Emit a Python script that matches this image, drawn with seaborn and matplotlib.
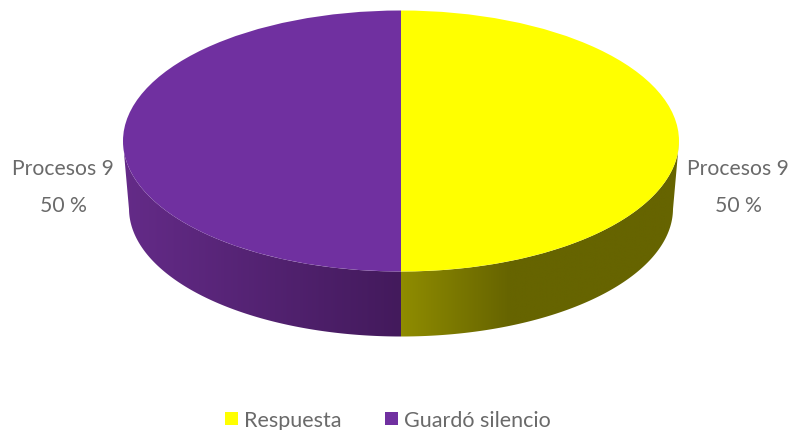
import numpy as np
import matplotlib
matplotlib.use("Agg")
import matplotlib.pyplot as plt
from matplotlib.colors import LinearSegmentedColormap
from matplotlib.patches import Polygon
import seaborn as sns

categories = ["Respuesta", "Guardó silencio"]
values = [9, 9]
slice_labels = ["Procesos 9\n50 %", "Procesos 9\n50 %"]
top_colors = ["#FFFF00", "#7030A0"]
# shading of the rim, left to right, for each slice
rim_stops = [
    [(0.0, "#8F8C00"), (0.39, "#666400"), (1.0, "#666400")],
    [(0.0, "#642B88"), (1.0, "#431A5C")],
]

sns.set_theme(style="white")
plt.rcParams["font.family"] = ["Lato", "DejaVu Sans"]
TEXT = "#6A6A6A"

W, H = 792, 431
CX, CY, RX, RY = 401, 142, 278, 130.5
fig = plt.figure(figsize=(W / 100, H / 100), dpi=100)
ax = fig.add_axes([(CX - RX) / W, (H - CY - RY) / H, 2 * RX / W, 2 * RY / H])

# top face
wedges, _ = ax.pie(values, colors=sns.color_palette(top_colors), startangle=90,
                   counterclock=False, radius=1.0, frame=False,
                   wedgeprops={"linewidth": 0, "zorder": 3})

# rim: lower half of the top ellipse joined to a slightly narrower bottom ellipse
BOT_RX, BOT_RY, BOT_CY = 272 / RX, 128 / RY, -(209.5 - CY) / RY
shares = np.cumsum([0] + values) / sum(values)
for i in range(len(values)):
    start = np.pi / 2 - 2 * np.pi * shares[i]
    stop = np.pi / 2 - 2 * np.pi * shares[i + 1]
    t = np.linspace(start, stop, 300)
    t = t[np.sin(t) <= 1e-9]
    upper = np.column_stack([np.cos(t), np.sin(t)])
    lower = np.column_stack([BOT_RX * np.cos(t), BOT_CY + BOT_RY * np.sin(t)])
    outline = np.vstack([upper, lower[::-1]])
    clip = Polygon(outline, closed=True, transform=ax.transData,
                   facecolor="none", edgecolor="none", clip_on=False)
    ax.add_patch(clip)
    x0, x1 = outline[:, 0].min(), outline[:, 0].max()
    cmap = LinearSegmentedColormap.from_list(f"rim{i}", rim_stops[i])
    im = ax.imshow(np.linspace(0, 1, 400).reshape(1, -1), cmap=cmap, aspect="auto",
                   extent=(x0, x1, outline[:, 1].min(), outline[:, 1].max()),
                   interpolation="bilinear", zorder=2)
    im.set_clip_box(fig.bbox)
    im.set_clip_path(clip)

ax.set_aspect("auto")
ax.set_xlim(-1, 1)
ax.set_ylim(-1, 1)
ax.axis("off")

# slice labels beside the disc
label_x = [(738 - CX) / RX, (63 - CX) / RX]
label_y = -(187.5 - CY) / RY
for x, txt in zip(label_x, slice_labels):
    ax.text(x, label_y, txt, ha="center", va="center", fontsize=15.25,
            color=TEXT, linespacing=2.1, clip_on=False)

leg = fig.legend(wedges, categories, loc="center", bbox_to_anchor=(388 / W, 1 - 421 / H),
                 ncol=2, frameon=False, fontsize=15.5, labelcolor=TEXT,
                 handlelength=0.6, handleheight=0.6, handletextpad=0.28,
                 columnspacing=2.04, borderpad=0, borderaxespad=0)

fig.savefig("out.png", dpi=100, facecolor="white")
